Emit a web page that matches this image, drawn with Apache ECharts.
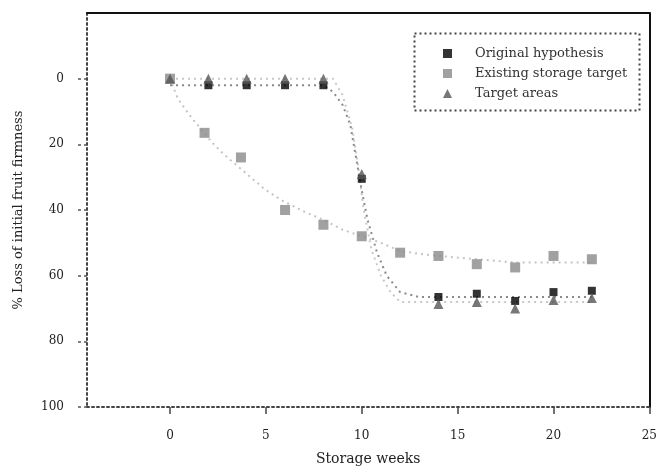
<!DOCTYPE html>
<html>
<head>
<meta charset="utf-8">
<script src="https://cdn.jsdelivr.net/npm/echarts@6/dist/echarts.min.js"></script>
<style>html,body{margin:0;padding:0;background:#fff}#c{width:660px;height:471px}</style>
</head>
<body>
<div id="c"></div>
<script>
// Data
const seriesNames = ['Original hypothesis', 'Existing storage target', 'Target areas'];
const xTitle = 'Storage weeks';
const yTitle = '% Loss of initial fruit firmness';

// [week, value]
const originalPoints = [[2,2],[4,2],[6,2],[8,2],[10,30.5],[14,66.5],[16,65.5],[18,67.7],[20,65],[22,64.6]];
const existingPoints = [[0,0],[1.8,16.5],[3.7,24],[6,40],[8,44.5],[10,48],[12,53],[14,54],[16,56.5],[18,57.5],[20,54],[22,55]];
const targetPoints   = [[0,0],[2,0],[4,0],[6,0],[8,0],[10,29],[14,68.6],[16,68],[18,70],[20,67.4],[22,66.8]];

// fitted (dotted) curves
const originalFit = [[0,2],[8,2],[8.5,4],[9,8],[9.4,14],[9.7,24],[10,34],[10.3,43],[10.8,53],[11.3,60],[12,65],[13,66.5],[22,66.5]];
const existingFit = [[0,0],[0.4,6],[1,11],[2.2,19.5],[2.8,23],[4,29],[4.9,33.5],[5.8,37],[7,40.5],[8,43],[9,46],[10,48],[11,50],[12,52.5],[13.2,53.5],[15,54.5],[16,55],[18,56],[22,56]];
const targetFit   = [[0,0],[8.5,0],[9,5],[9.5,15],[9.8,26],[10.1,40],[10.5,52],[11,60],[11.5,65],[12,68],[22,68]];

const xMin = -4.33, xMax = 25;
const yMin = -20, yMax = 100, yStep = 20;

const font = 'DejaVu Serif';
const chart = echarts.init(document.getElementById('c'), null, {renderer: 'canvas'});

const dotted = (color) => ({color: color, width: 2, type: [2, 4]});

chart.setOption({
  animation: false,
  backgroundColor: '#fff',
  grid: {left: 87, right: 9, top: 13, bottom: 62, containLabel: false},
  xAxis: [{
    type: 'value', min: xMin, max: xMax, splitNumber: 6,
    name: xTitle, nameLocation: 'middle', nameGap: 45,
    nameTextStyle: {fontFamily: font, fontSize: 14, color: '#222'},
    axisLine: {show: true, onZero: false, lineStyle: {color: '#444', width: 2, type: [2, 3]}},
    axisTick: {show: true, length: 7, lineStyle: {color: '#444', width: 1.5}},
    axisLabel: {showMinLabel: false, margin: 23, fontFamily: font, fontSize: 12, color: '#222'},
    splitLine: {show: false}
  }, {
    type: 'value', min: xMin, max: xMax, position: 'top',
    axisLine: {show: true, onZero: false, lineStyle: {color: '#111', width: 2}},
    axisTick: {show: false}, axisLabel: {show: false}, splitLine: {show: false}
  }],
  yAxis: [{
    type: 'value', min: yMin, max: yMax, interval: yStep, inverse: true,
    name: yTitle, nameLocation: 'middle', nameGap: 62, nameRotate: 90,
    nameTextStyle: {fontFamily: font, fontSize: 13, color: '#222'},
    axisLine: {show: true, onZero: false, lineStyle: {color: '#444', width: 2, type: [2, 3]}},
    axisTick: {show: true, length: 9, lineStyle: {color: '#555', width: 1.5, type: [3, 3]}},
    axisLabel: {showMinLabel: false, margin: 23, fontFamily: font, fontSize: 12, color: '#222'},
    splitLine: {show: false}
  }, {
    type: 'value', min: yMin, max: yMax, interval: yStep, inverse: true, position: 'right',
    axisLine: {show: true, onZero: false, lineStyle: {color: '#111', width: 2}},
    axisTick: {show: false}, axisLabel: {show: false}, splitLine: {show: false}
  }],
  legend: {
    show: true, orient: 'vertical', left: 438, top: 42, itemGap: 7,
    itemWidth: 9, itemHeight: 9,
    textStyle: {fontFamily: font, fontSize: 13, color: '#333', padding: [0, 0, 0, 18]},
    data: [
      {name: seriesNames[0], icon: 'rect'},
      {name: seriesNames[1], icon: 'rect'},
      {name: seriesNames[2], icon: 'triangle'}
    ]
  },
  graphic: [{
    type: 'rect', left: 412, top: 31, silent: true, z: 10,
    shape: {width: 225, height: 77},
    style: {fill: 'none', stroke: '#444', lineWidth: 2, lineDash: [2, 3]}
  }],
  series: [
    {name: 'fit-existing', type: 'line', data: existingFit, showSymbol: false, symbol: 'none', lineStyle: dotted('#c4c4c4'), z: 1},
    {name: 'fit-target', type: 'line', data: targetFit, showSymbol: false, symbol: 'none', lineStyle: dotted('#c8c8c8'), z: 1},
    {name: 'fit-original', type: 'line', data: originalFit, showSymbol: false, symbol: 'none', lineStyle: dotted('#8a8a8a'), z: 2},
    {name: seriesNames[1], type: 'scatter', data: existingPoints, symbol: 'rect', symbolSize: 10, itemStyle: {color: '#8a8a8a'}, z: 3},
    {name: seriesNames[0], type: 'scatter', data: originalPoints, symbol: 'rect', symbolSize: 8, itemStyle: {color: '#000'}, z: 4},
    {name: seriesNames[2], type: 'scatter', data: targetPoints, symbol: 'triangle', symbolSize: 10, itemStyle: {color: '#555'}, z: 5}
  ]
});
</script>
</body>
</html>
